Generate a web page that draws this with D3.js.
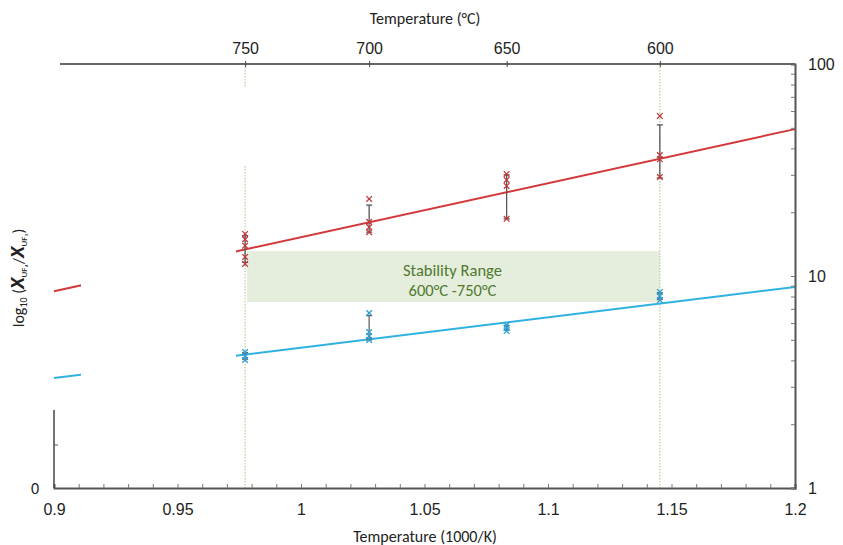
<!DOCTYPE html>
<html>
<head>
<meta charset="utf-8">
<script src="https://cdn.jsdelivr.net/npm/d3@7"></script>
<style>
  body { margin: 0; background: #fff; }
  svg { font-family: Carlito, Lato, "Open Sans", sans-serif; }
</style>
</head>
<body>
<svg id="chart"></svg>
<script>
const width = 843;
const height = 545;

// Top axis temperatures (°C)
const tempsC = [750, 700, 650, 600];
// Bottom axis labels (1000/K)
const xTicks = [0.9, 0.95, 1, 1.05, 1.1, 1.15, 1.2];

const redPoints = [
  { t: 750, v: [15.8, 14.9, 13.9, 12.3, 11.4] },
  { t: 700, v: [23.1, 18.0, 17.0, 16.1] },
  { t: 650, v: [30.3, 28.4, 26.6, 18.6] },
  { t: 600, v: [56.9, 37.2, 35.5, 29.3] }
];
const bluePoints = [
  { t: 750, v: [4.38, 4.19, 4.02] },
  { t: 700, v: [6.69, 5.44, 5.21, 4.99] },
  { t: 650, v: [5.87, 5.69, 5.50] },
  { t: 600, v: [8.41, 8.05, 7.70] }
];
// Error bars [low, high]
const redErr = [[11.6, 15.5], [16.1, 21.6], [18.6, 30.0], [29.0, 51.6]];
const blueErr = [[4.05, 4.35], [5.0, 6.5], [5.55, 5.85], [7.75, 8.35]];

// Fit lines, values at x = 0.9 and x = 1.2
const fitX = [0.9, 1.2];
const redFit = [8.47, 49.3];
const blueFit = [3.30, 8.87];

// Stability range box (°C span and value span)
const rangeT = [750, 600];
const rangeV = [7.54, 13.1];

const invT = (c) => 1000 / (c + 273.15);

const x = d3.scaleLinear().domain([0.9, 1.2]).range([54, 795]);
const y = d3.scaleLog().domain([1, 100]).range([488, 64]);

const svg = d3.select("#chart").attr("width", width).attr("height", height);

// Stability range shading
svg.append("rect")
  .attr("x", x(invT(rangeT[0])) + 2)
  .attr("y", y(rangeV[1]))
  .attr("width", x(invT(rangeT[1])) - x(invT(rangeT[0])) - 2)
  .attr("height", y(rangeV[0]) - y(rangeV[1]))
  .attr("fill", "#e5eddc");

const midX = (x(invT(rangeT[0])) + x(invT(rangeT[1]))) / 2;
svg.append("text")
  .attr("x", midX)
  .attr("y", y(rangeV[1]) + 25)
  .attr("text-anchor", "middle")
  .attr("font-size", 16.5)
  .attr("fill", "#4f7a2e")
  .text("Stability Range");
svg.append("text")
  .attr("x", midX)
  .attr("y", y(rangeV[1]) + 45)
  .attr("text-anchor", "middle")
  .attr("font-size", 16.5)
  .attr("fill", "#4f7a2e")
  .text("600°C -750°C");

// Dotted guide lines at 750 and 600 °C
svg.selectAll(".guide")
  .data(rangeT)
  .enter()
  .append("line")
  .attr("x1", (d) => x(invT(d)))
  .attr("x2", (d) => x(invT(d)))
  .attr("y1", y(100))
  .attr("y2", y(1))
  .attr("stroke", "#bccb9c")
  .attr("stroke-width", 1.2)
  .attr("stroke-dasharray", "1.5,1.5");

// Fit lines
const line = d3.line().x((d) => x(d[0])).y((d) => y(d[1]));
svg.append("path")
  .attr("d", line(fitX.map((d, i) => [d, redFit[i]])))
  .attr("stroke", "#d4373a").attr("stroke-width", 2).attr("fill", "none");
svg.append("path")
  .attr("d", line(fitX.map((d, i) => [d, blueFit[i]])))
  .attr("stroke", "#2fb2e2").attr("stroke-width", 2).attr("fill", "none");

// Error bars
function errorBars(errs, color) {
  const g = svg.append("g").attr("stroke", color).attr("stroke-width", 1.3);
  errs.forEach((e, i) => {
    const cx = x(invT(tempsC[i]));
    g.append("line").attr("x1", cx).attr("x2", cx).attr("y1", y(e[0])).attr("y2", y(e[1]));
    e.forEach((v) => {
      g.append("line").attr("x1", cx - 3).attr("x2", cx + 3).attr("y1", y(v)).attr("y2", y(v));
    });
  });
}
errorBars(redErr, "#555");
errorBars(blueErr, "#666");

// Cross markers
function crosses(points, color) {
  const g = svg.append("g").attr("stroke", color).attr("stroke-width", 1.3);
  points.forEach((p) => {
    const cx = x(invT(p.t));
    p.v.forEach((v) => {
      const cy = y(v);
      g.append("path")
        .attr("d", `M${cx - 2.8},${cy - 2.8}L${cx + 2.8},${cy + 2.8}M${cx - 2.8},${cy + 2.8}L${cx + 2.8},${cy - 2.8}`);
    });
  });
}
crosses(redPoints, "#c0393b");
crosses(bluePoints, "#2a9fd0");

// White patches covering part of the plot as in the source figure
svg.append("rect").attr("x", 50).attr("y", 66).attr("width", 192).attr("height", 22).attr("fill", "#fff");
svg.append("rect").attr("x", 50).attr("y", 88).attr("width", 200).attr("height", 78).attr("fill", "#fff");
svg.append("rect").attr("x", 81).attr("y", 166).attr("width", 155).attr("height", 244).attr("fill", "#fff");

// Bottom axis
const minor = d3.range(0, 31).map((i) => 0.9 + i * 0.01);
const bottomAxis = svg.append("g")
  .attr("transform", `translate(0,${y(1)})`)
  .call(d3.axisBottom(x)
    .tickValues(minor)
    .tickSize(-4)
    .tickPadding(16)
    .tickFormat((d) => {
      const k = xTicks.find((t) => Math.abs(t - d) < 1e-6);
      return k === undefined ? "" : d3.format("")(k);
    }));
bottomAxis.select(".domain").attr("stroke", "#555").attr("stroke-width", 2);
bottomAxis.selectAll(".tick line").attr("stroke", "#777");
bottomAxis.selectAll("text").attr("font-size", 16).attr("fill", "#222");

svg.append("text")
  .attr("x", 425).attr("y", 542)
  .attr("text-anchor", "middle").attr("font-size", 16).attr("fill", "#222")
  .text("Temperature (1000/K)");

// Right log axis
const rightAxis = svg.append("g")
  .attr("transform", `translate(${x(1.2)},0)`)
  .call(d3.axisRight(y)
    .ticks(10)
    .tickSize(-4)
    .tickPadding(13)
    .tickFormat((d) => ([1, 10, 100].includes(d) ? d : "")));
rightAxis.select(".domain").attr("stroke", "#555").attr("stroke-width", 2);
rightAxis.selectAll(".tick line").attr("stroke", "#777");
rightAxis.selectAll("text").attr("font-size", 16).attr("fill", "#222");

// Top axis (°C)
const topAxis = svg.append("g")
  .attr("transform", `translate(0,${y(100)})`)
  .call(d3.axisTop(x)
    .tickValues(tempsC.map(invT))
    .tickSize(3)
    .tickPadding(7)
    .tickFormat((d, i) => tempsC[i]));
topAxis.select(".domain").remove();
topAxis.insert("line", ":first-child")
  .attr("x1", x(0.9) + 6).attr("x2", x(1.2))
  .attr("stroke", "#666").attr("stroke-width", 2);
topAxis.selectAll(".tick line").attr("stroke", "#444").attr("y2", 3).attr("y1", -3);
topAxis.selectAll("text").attr("font-size", 16).attr("fill", "#222");

svg.append("text")
  .attr("x", 425).attr("y", 24)
  .attr("text-anchor", "middle").attr("font-size", 16).attr("fill", "#222")
  .text("Temperature (°C)");

// Remaining stub of the left axis
svg.append("line")
  .attr("x1", x(0.9)).attr("x2", x(0.9))
  .attr("y1", 410).attr("y2", y(1))
  .attr("stroke", "#444").attr("stroke-width", 1.5);
svg.append("line")
  .attr("x1", x(0.9)).attr("x2", x(0.9) + 4)
  .attr("y1", 445).attr("y2", 445)
  .attr("stroke", "#555");
svg.append("text")
  .attr("x", 35).attr("y", y(1) + 6)
  .attr("text-anchor", "middle").attr("font-size", 16).attr("fill", "#222")
  .text("0");

// Left axis title
const lab = svg.append("text")
  .attr("transform", "translate(24,278) rotate(-90)")
  .attr("text-anchor", "middle").attr("font-size", 16).attr("fill", "#222");
lab.append("tspan").text("log");
lab.append("tspan").attr("font-size", 10).attr("dy", 3).text("10");
lab.append("tspan").attr("dy", -3).text(" (");
lab.append("tspan").attr("font-weight", "bold").attr("font-style", "italic").attr("font-size", 21).text("X");
lab.append("tspan").attr("font-size", 9).attr("dy", 3).text("UF₄");
lab.append("tspan").attr("dy", -3).text("/");
lab.append("tspan").attr("font-weight", "bold").attr("font-style", "italic").attr("font-size", 21).text("X");
lab.append("tspan").attr("font-size", 9).attr("dy", 3).text("UF₃");
lab.append("tspan").attr("dy", -3).text(")");
</script>
</body>
</html>
